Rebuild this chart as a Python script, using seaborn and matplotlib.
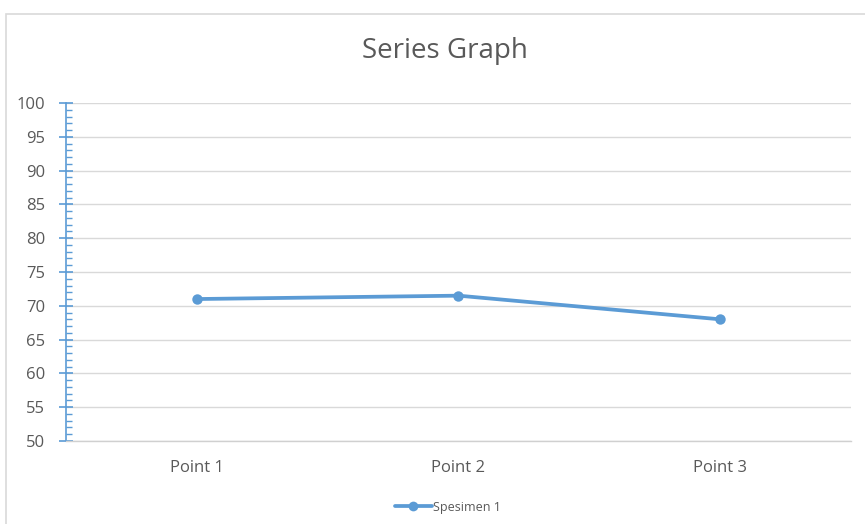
import matplotlib
matplotlib.use("Agg")
import matplotlib.pyplot as plt
import seaborn as sns
import pandas as pd
from matplotlib.patches import Rectangle
from matplotlib.ticker import MultipleLocator
from matplotlib.lines import Line2D

categories = ["Point 1", "Point 2", "Point 3"]
values = [71, 71.5, 68]
series_name = "Spesimen 1"
title = "Series Graph"

sns.set_theme(style="white")
plt.rcParams['font.family'] = ['Open Sans', 'DejaVu Sans']

df = pd.DataFrame({"category": categories, "value": values})

W, H = 865, 524
fig = plt.figure(figsize=(W / 100, H / 100), dpi=100)
ax = fig.add_axes([66 / W, 1 - 441 / H, (851 - 66) / W, (441 - 103) / H])

blue = "#5B9BD5"
grey_text = "#595959"

sns.lineplot(data=df, x="category", y="value", ax=ax, color=blue, linewidth=2.7,
             marker="o", markersize=7.5, markeredgewidth=0, sort=False)

ax.set_xlim(-0.5, 2.5)
ax.set_ylim(50, 100)
ax.yaxis.set_major_locator(MultipleLocator(5))
ax.yaxis.set_minor_locator(MultipleLocator(1))
ax.grid(axis="y", which="major", color="#D9D9D9", linewidth=1)
ax.set_axisbelow(True)

for s in ["top", "right"]:
    ax.spines[s].set_visible(False)
ax.spines["left"].set_color(blue)
ax.spines["left"].set_linewidth(1.2)
ax.spines["bottom"].set_color("#D0D0D0")
ax.spines["bottom"].set_linewidth(1)

ax.tick_params(axis="y", which="major", direction="inout", length=10, width=1.2,
               color=blue, labelsize=12, labelcolor=grey_text, pad=10, left=True)
ax.tick_params(axis="y", which="minor", direction="in", length=4, width=1,
               color=blue, left=True)
ax.tick_params(axis="x", which="both", length=0, labelsize=12, labelcolor=grey_text, pad=14)
ax.set_xlabel("")
ax.set_ylabel("")
if ax.get_legend() is not None:
    ax.get_legend().remove()

fig.text(445 / W, 1 - 58 / H, title, ha="center", va="baseline", fontsize=20, color=grey_text)

handle = Line2D([0], [0], color=blue, linewidth=2.7, marker="o", markersize=7, markeredgewidth=0)
fig.legend([handle], [series_name], loc="center", bbox_to_anchor=(448 / W, 1 - 507 / H),
           frameon=False, fontsize=9, labelcolor=grey_text, handlelength=3.0,
           handletextpad=0.1)

fig.patches.append(Rectangle((6 / W, -0.1), 1.2, 1 - 14 / H + 0.1, transform=fig.transFigure,
                             fill=False, edgecolor="#D9D9D9", linewidth=1.2))

fig.savefig("out.png", dpi=100)
